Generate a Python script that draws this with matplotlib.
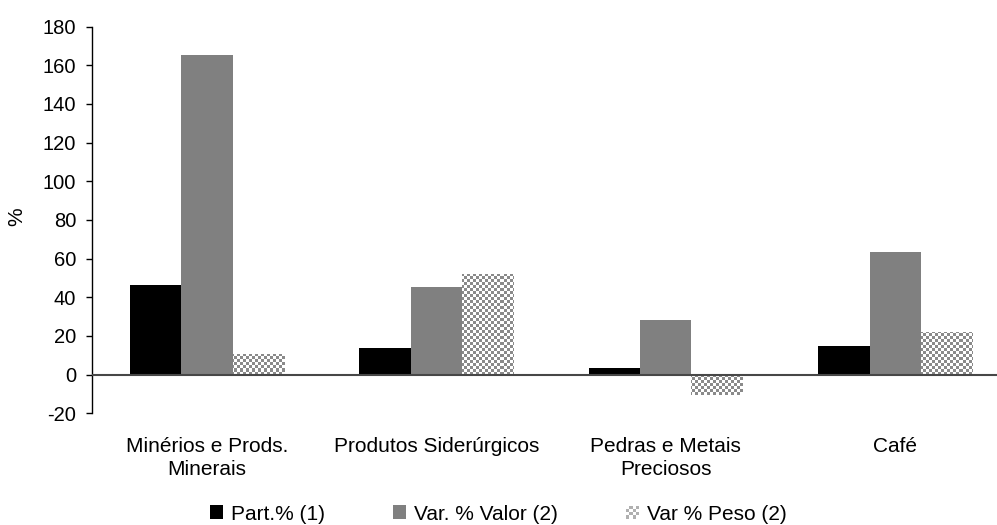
import numpy as np
import matplotlib
matplotlib.use("Agg")
import matplotlib.pyplot as plt
from matplotlib.colors import ListedColormap
from matplotlib.legend_handler import HandlerBase
from matplotlib.patches import Rectangle, Patch
from matplotlib.transforms import Bbox

# Data
categories = ["Minérios e Prods.\nMinerais", "Produtos Siderúrgicos",
              "Pedras e Metais\nPreciosos", "Café"]
part_pct = [46.5, 14.0, 3.6, 15.0]
var_valor = [165.5, 45.5, 28.5, 63.6]
var_peso = [10.9, 52.2, -10.5, 22.2]
series_names = ["Part.% (1)", "Var. % Valor (2)", "Var % Peso (2)"]
y_ticks = [-20, 0, 20, 40, 60, 80, 100, 120, 140, 160, 180]

plt.rcParams["font.family"] = ["Liberation Sans", "DejaVu Sans"]

W, H = 997, 525
fig = plt.figure(figsize=(W / 100, H / 100), dpi=100)
ax = fig.add_axes([92.3 / W, 1 - 413.3 / H, 917.6 / W, 386.8 / H])

x = np.arange(len(categories))
bw = 0.224
GRAY = "#808080"
CHECK = "#8a8a8a"

ax.bar(x - bw, part_pct, bw, color="black", linewidth=0, zorder=2)
ax.bar(x, var_valor, bw, color=GRAY, linewidth=0, zorder=2)
peso_bars = ax.bar(x + bw, var_peso, bw, facecolor="none", linewidth=0, zorder=2)

ax.set_xlim(-0.5, len(categories) - 0.5)
ax.set_ylim(-20, 180)

# checkerboard fill for the weight series, clipped to each bar
ny, nx = 129, 306
ii, jj = np.indices((ny, nx))
board = (ii + jj) % 2
cmap = ListedColormap(["white", CHECK])
for patch in peso_bars.patches:
    im = ax.imshow(board, extent=(-0.5, len(categories) - 0.5, -20, 180),
                   aspect="auto", cmap=cmap, interpolation="nearest",
                   origin="lower", zorder=2)
    im.set_clip_path(patch)
ax.set_xlim(-0.5, len(categories) - 0.5)
ax.set_ylim(-20, 180)

# zero line
ax.axhline(0, color="#474747", linewidth=1.5, zorder=3)

for side in ["top", "right", "bottom"]:
    ax.spines[side].set_visible(False)
ax.spines["left"].set_color("black")
ax.spines["left"].set_linewidth(1.0)

ax.set_yticks(y_ticks)
ax.set_yticklabels([str(v) for v in y_ticks])
ax.tick_params(axis="y", length=4.5, width=1.0, pad=7, labelsize=14.5,
               colors="black")
ax.set_xticks(x)
ax.set_xticklabels(categories, fontsize=15, linespacing=1.3)
ax.tick_params(axis="x", length=0, pad=17)

# text below this line is cut off
clip = Bbox.from_extents(0, H - 476, W, H)
for lab in ax.get_xticklabels():
    lab.set_clip_on(True)
    lab.set_clip_box(clip)

fig.text(17 / W, 1 - 217 / H, "%", rotation=90, ha="center", va="center",
         fontsize=15)


class CheckerHandler(HandlerBase):
    def create_artists(self, legend, orig_handle, xdescent, ydescent,
                       width, height, fontsize, trans):
        n = 4
        side = min(width, height)
        x0 = -xdescent + (width - side) / 2
        y0 = -ydescent + (height - side) / 2
        c = side / n
        arts = [Rectangle((x0, y0), side, side, facecolor="white",
                          linewidth=0, transform=trans)]
        for i in range(n):
            for j in range(n):
                if (i + j) % 2 == 0:
                    arts.append(Rectangle((x0 + i * c, y0 + j * c), c, c,
                                          facecolor="#b0b0b0", linewidth=0,
                                          transform=trans))
        return arts


h1 = Patch(facecolor="black", linewidth=0)
h2 = Patch(facecolor=GRAY, linewidth=0)
h3 = Patch(facecolor="white", linewidth=0)
fig.legend([h1, h2, h3], series_names, loc="center",
           bbox_to_anchor=(0.5, 1 - 514 / H), ncol=3, frameon=False,
           fontsize=15, handlelength=0.63, handleheight=0.65,
           handletextpad=0.38, columnspacing=3.27, borderpad=0,
           handler_map={h3: CheckerHandler()})

fig.savefig("out.png", dpi=100)
